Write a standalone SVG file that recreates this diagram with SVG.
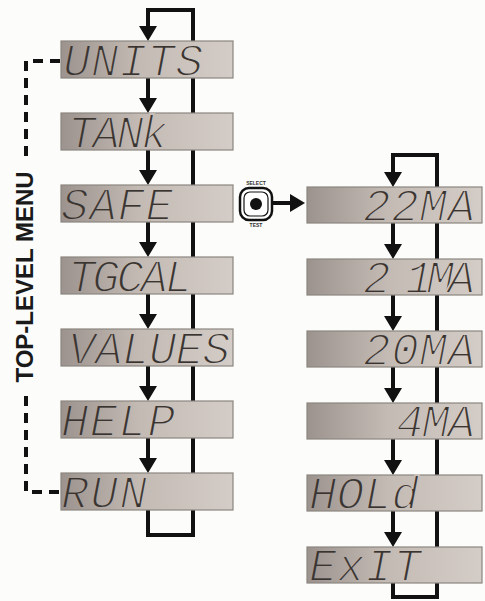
<svg xmlns="http://www.w3.org/2000/svg" width="485" height="601" viewBox="0 0 485 601">
<defs>
<linearGradient id="lcdL" gradientUnits="userSpaceOnUse" x1="61" y1="0" x2="233" y2="0">
<stop offset="0" stop-color="#9c938e"/>
<stop offset="0.45" stop-color="#c3bab4"/>
<stop offset="1" stop-color="#d4ccc6"/>
</linearGradient>
<linearGradient id="lcdR" gradientUnits="userSpaceOnUse" x1="307" y1="0" x2="482" y2="0">
<stop offset="0" stop-color="#9c938e"/>
<stop offset="0.45" stop-color="#c3bab4"/>
<stop offset="1" stop-color="#d4ccc6"/>
</linearGradient>
<path id="head" d="M0,0 L-9,-15 L9,-15 Z" fill="#111"/>
</defs>
<style>
.boxL{fill:url(#lcdL);stroke:#8b8580;stroke-width:1.2}
.boxR{fill:url(#lcdR);stroke:#8b8580;stroke-width:1.2}
.lcd{font-family:"Liberation Mono","DejaVu Sans Mono",monospace;font-style:italic;font-size:46px;fill:#3a3431;stroke-width:1.8}
.L{stroke:url(#lcdL)}
.R{stroke:url(#lcdR)}
.line{fill:none;stroke:#111;stroke-width:4}
.dash{fill:none;stroke:#111;stroke-width:4;stroke-dasharray:10 7}
.lbl{font-family:"Liberation Sans",Arial,sans-serif;font-weight:bold;font-size:24px;fill:#1a1a1a}
.tiny{font-family:"Liberation Sans",Arial,sans-serif;font-weight:bold;font-size:5px;fill:#333}
</style>
<rect width="485" height="601" fill="#fcfcfa"/>
<g id="connectors">
<path class="line" d="M148,27 V10 H193 V535 H148 V509"/>
<path class="line" d="M393,172 V155 H437 V597 H393 V583"/>
<path class="line" d="M148,78 V100 M148,150 V172 M148,222 V244 M148,294 V316 M148,366 V388 M148,438 V460"/>
<path class="line" d="M393,223 V246 M393,295 V318 M393,367 V390 M393,439 V462 M393,511 V534"/>
<path class="line" d="M273,203 H292"/>
<use href="#head" x="148" y="41"/>
<use href="#head" x="148" y="113"/>
<use href="#head" x="148" y="185"/>
<use href="#head" x="148" y="257"/>
<use href="#head" x="148" y="329"/>
<use href="#head" x="148" y="401"/>
<use href="#head" x="148" y="473"/>
<use href="#head" x="393" y="187"/>
<use href="#head" x="393" y="259"/>
<use href="#head" x="393" y="331"/>
<use href="#head" x="393" y="403"/>
<use href="#head" x="393" y="475"/>
<use href="#head" x="393" y="547"/>
<path d="M305,203 L290,194 L290,212 Z" fill="#111"/>
<path class="dash" d="M60,61 H26 V163"/>
<path class="dash" d="M26,396 V492 H60"/>
</g>
<text class="lbl" transform="translate(33,277) rotate(-90)" text-anchor="middle">TOP-LEVEL MENU</text>
<g id="units"><rect class="boxL" x="61" y="41" width="172" height="37"/><text class="lcd L" x="63" y="76" textLength="140" lengthAdjust="spacing">UNITS</text></g>
<g id="tank"><rect class="boxL" x="61" y="113" width="172" height="37"/><text class="lcd L" x="68" y="148" textLength="100" lengthAdjust="spacing">TANk</text></g>
<g id="safe"><rect class="boxL" x="61" y="185" width="172" height="37"/><text class="lcd L" x="61" y="220" textLength="112" lengthAdjust="spacing">SAFE</text></g>
<g id="tgcal"><rect class="boxL" x="61" y="257" width="172" height="37"/><text class="lcd L" x="68" y="292" textLength="124" lengthAdjust="spacing">TGCAL</text></g>
<g id="values"><rect class="boxL" x="61" y="329" width="172" height="37"/><text class="lcd L" x="68" y="364" textLength="162" lengthAdjust="spacing">VALUES</text></g>
<g id="help"><rect class="boxL" x="61" y="401" width="172" height="37"/><text class="lcd L" x="61" y="436" textLength="114" lengthAdjust="spacing">HELP</text></g>
<g id="run"><rect class="boxL" x="61" y="473" width="172" height="37"/><text class="lcd L" x="61" y="508" textLength="86" lengthAdjust="spacing">RUN</text></g>
<g id="select">
<rect x="240" y="188" width="32" height="32" rx="9" fill="#fff" stroke="#111" stroke-width="2.5"/>
<rect x="244" y="192" width="24" height="24" rx="6" fill="none" stroke="#111" stroke-width="1.2"/>
<circle cx="256" cy="204" r="6" fill="#111"/>
<text class="tiny" x="256" y="185" text-anchor="middle">SELECT</text>
<text class="tiny" x="256" y="227" text-anchor="middle">TEST</text>
</g>
<g id="ma22"><rect class="boxR" x="307" y="187" width="175" height="36"/><text class="lcd R" x="363" y="221" textLength="112" lengthAdjust="spacing">22MA</text></g>
<g id="ma21"><rect class="boxR" x="307" y="259" width="175" height="36"/><text class="lcd R" x="363" y="293" textLength="112" lengthAdjust="spacing">2 1MA</text></g>
<g id="ma20"><rect class="boxR" x="307" y="331" width="175" height="36"/><text class="lcd R" x="363" y="365" textLength="112" lengthAdjust="spacing">20MA</text></g>
<g id="ma4"><rect class="boxR" x="307" y="403" width="175" height="36"/><text class="lcd R" x="396" y="437" textLength="79" lengthAdjust="spacing">4MA</text></g>
<g id="hold"><rect class="boxR" x="307" y="475" width="175" height="36"/><text class="lcd R" x="309" y="509" textLength="110" lengthAdjust="spacing">HOLd</text></g>
<g id="exit"><rect class="boxR" x="307" y="547" width="175" height="36"/><text class="lcd R" x="309" y="581" textLength="112" lengthAdjust="spacing">ExIT</text></g>
</svg>
